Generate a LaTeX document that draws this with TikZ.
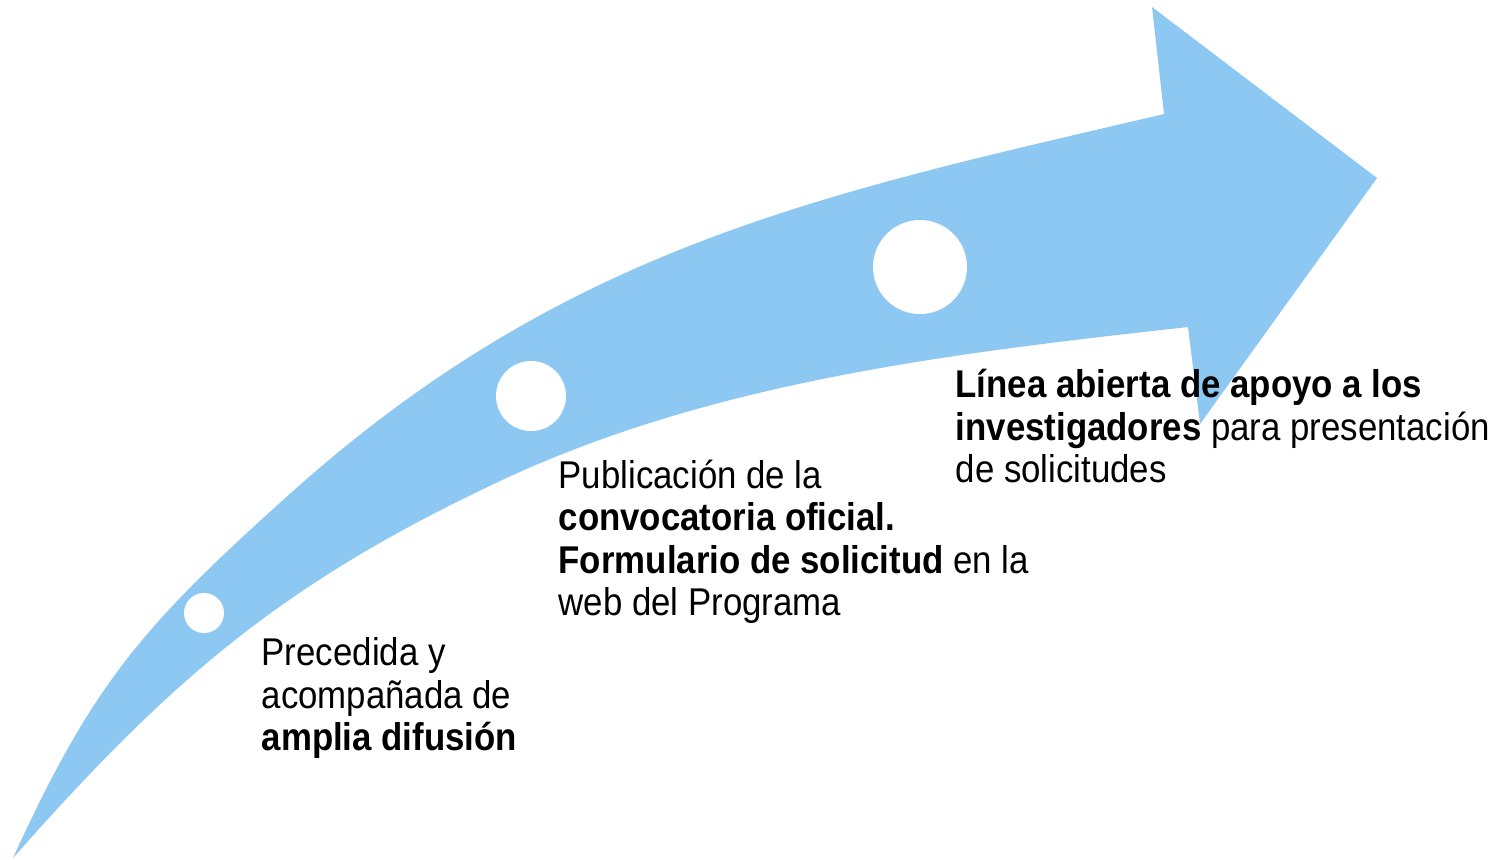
\documentclass[tikz,border=0pt]{standalone}
\usepackage{fontspec}
\setmainfont[FakeStretch=0.9]{Liberation Sans}
\usepackage{xcolor}
\usetikzlibrary{positioning}
\definecolor{arrowblue}{RGB}{141,200,242}

\begin{document}
\begin{tikzpicture}[
	%	style def
    x=0.01cm, y=-0.01cm,
    stage text/.style={anchor=base west, inner sep=0pt, align=left,
      font=\fontsize{11}{11.95}\selectfont},
    every node/.style={color=black}
    ]
    \useasboundingbox (0,0) rectangle (1495,859);

	% curved arrow (upper edge, head, lower edge)
    \fill[arrowblue] (13,858) coordinate (tail)
        .. controls (92,685) and (142,627) .. (283,500) coordinate (u1)
        .. controls (564,245) and (823,194) .. (1164,114) coordinate (n1)
        -- (1152,7) coordinate (h1)
        -- (1377,178) coordinate (tip)
        -- (1200,424) coordinate (h2)
        -- (1188,327) coordinate (n2)
        .. controls (954,353) and (713,381) .. (500,481) coordinate (l1)
        .. controls (283,583) and (172,678) .. (tail)
        -- cycle;

    % stage marks
    \fill[white]
        (204,613) coordinate (m1) circle (20)
        (531,396) coordinate (m2) circle (35)
        (920,267) coordinate (m3) circle (47);

    % texts (placed at the baseline of their last line)
    \node[stage text] (t1) at (261,750) {Precedida y\\acompañada de\\\textbf{amplia difusión}};
    \node[stage text] (t2) at (558,615) {Publicación de la\\\textbf{convocatoria oficial.}\\\textbf{Formulario de solicitud} en la\\web del Programa};
    \node[stage text] (t3) at (955,482) {\textbf{Línea abierta de apoyo a los}\\\textbf{investigadores} para presentación\\de solicitudes};
\end{tikzpicture}
\end{document}
